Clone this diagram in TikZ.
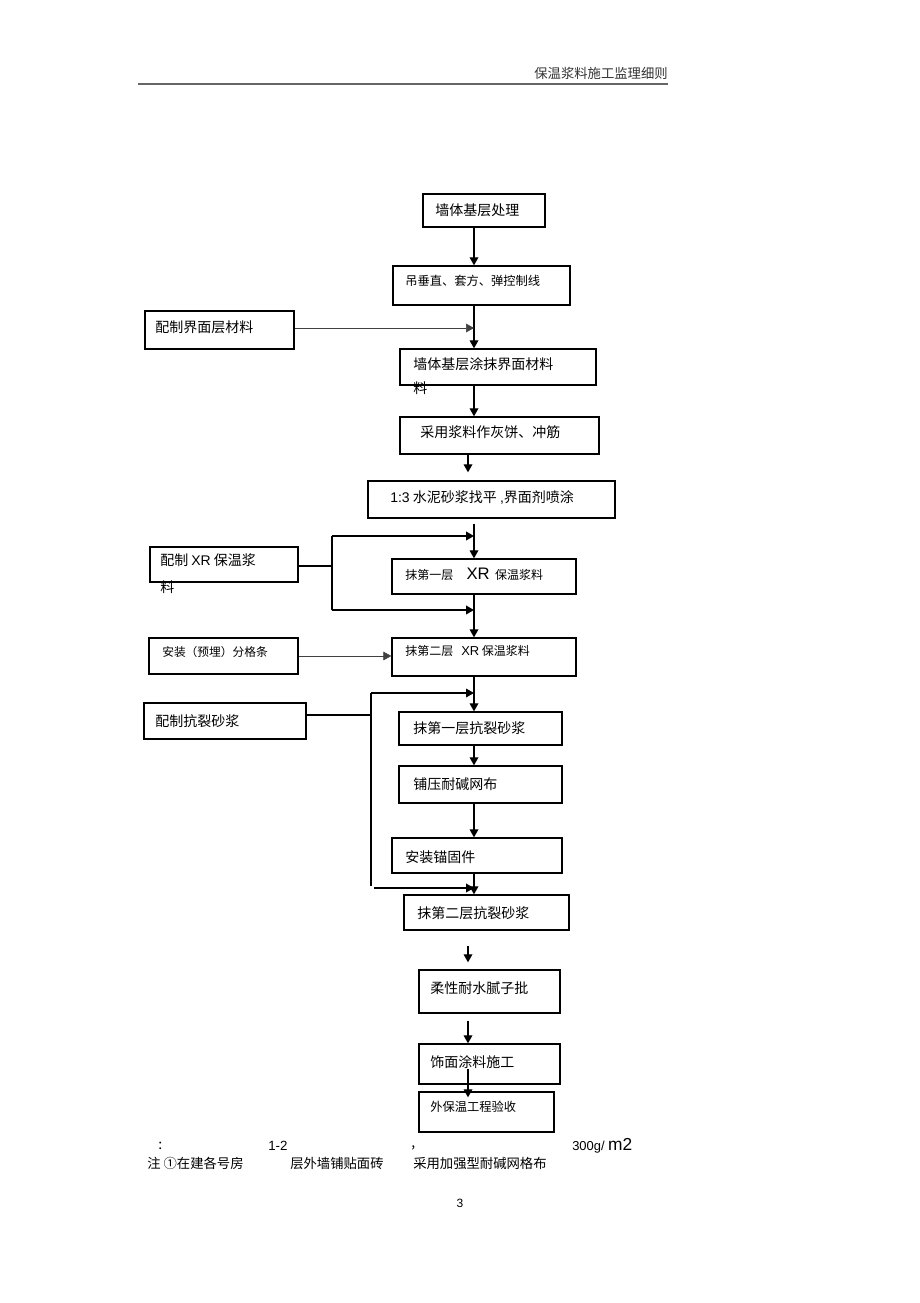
\documentclass[tikz,border=0pt]{standalone}
\usepackage{fontspec}
\setmainfont{Liberation Sans}
\newfontfamily\cjk{Noto Sans CJK SC}
\usetikzlibrary{arrows.meta,fit,calc}

\tikzset{
  box/.style={draw, line width=1pt, inner sep=0pt},
  txt/.style={anchor=west, inner sep=0pt, font=\cjk\fontsize{10.5}{12}\selectfont},
  smalltxt/.style={txt, font=\cjk\fontsize{9.2}{11}\selectfont},
  tip/.style={-{Triangle[length=6pt,width=6.5pt]}},
  arr/.style={line width=0.9pt, tip},
  feed/.style={line width=0.5pt, draw=black!75, tip},
  branch/.style={line width=1.4pt},
}

\begin{document}
\begin{tikzpicture}[x=0.75pt, y=-0.75pt]
            \useasboundingbox (0,0) rectangle (920,1303);

            % header
            \node[txt, anchor=east, font=\cjk\fontsize{10}{12}\selectfont, text=black!80] (head) at (668,73) {保温浆料施工监理细则};
            \draw[line width=1.5pt, black!60] (138,84) -- (668,84);

            % main column
            \node[box, fit={(423,194) (545,227)}] (b1) {};
            \node[box, fit={(393,266) (570,305)}] (b2) {};
            \node[box, fit={(400,349) (596,385)}] (b3) {};
            \node[box, fit={(400,417) (599,454)}] (b4) {};
            \node[box, fit={(368,481) (615,518)}] (b5) {};
            \node[box, fit={(392,559) (576,594)}] (b6) {};
            \node[box, fit={(392,638) (576,676)}] (b7) {};
            \node[box, fit={(399,712) (562,745)}] (b8) {};
            \node[box, fit={(399,766) (562,803)}] (b9) {};
            \node[box, fit={(392,838) (562,873)}] (b10) {};
            \node[box, fit={(404,895) (569,930)}] (b11) {};
            \node[box, fit={(419,970) (560,1013)}] (b12) {};
            \node[box, fit={(419,1044) (560,1084)}] (b13) {};
            \node[box, fit={(419,1092) (554,1132)}] (b14) {};

            % side boxes
            \node[box, fit={(145,311) (294,349)}] (s1) {};
            \node[box, fit={(150,547) (298,582)}] (s2) {};
            \node[box, fit={(149,638) (298,674)}] (s3) {};
            \node[box, fit={(144,703) (306,739)}] (s4) {};

            % texts
            \node[txt] (t1) at (435,210) {墙体基层处理};
            \node[smalltxt] (t2) at (405,281) {吊垂直、套方、弹控制线};
            \node[txt] (t3) at (413,364) {墙体基层涂抹界面材料};
            \node[txt] (t3b) at (413,388) {料};
            \node[txt] (t4) at (420,432) {采用浆料作灰饼、冲筋};
            \node[txt] (t5) at (390,497) {{\rmfamily 1:3} 水泥砂浆找平 {\rmfamily ,}界面剂喷涂};
            \node[smalltxt, font=\cjk\fontsize{9}{11}\selectfont] (t6) at (405,574) {抹第一层\hspace{10pt}{\rmfamily\fontsize{12.5}{14}\selectfont XR}\hspace{4pt}保温浆料};
            \node[smalltxt, font=\cjk\fontsize{9}{11}\selectfont] (t7) at (405,651) {抹第二层\hspace{6pt}{\rmfamily\fontsize{9.7}{11}\selectfont XR} 保温浆料};
            \node[txt] (t8) at (413,728) {抹第一层抗裂砂浆};
            \node[txt] (t9) at (413,784) {铺压耐碱网布};
            \node[txt] (t10) at (405,857) {安装锚固件};
            \node[txt] (t11) at (417,913) {抹第二层抗裂砂浆};
            \node[txt] (t12) at (430,988) {柔性耐水腻子批};
            \node[txt] (t13) at (430,1062) {饰面涂料施工};
            \node[smalltxt] (t14) at (430,1107) {外保温工程验收};
            \node[txt] (u1) at (155,327) {配制界面层材料};
            \node[txt] (u2) at (160,560) {配制 {\rmfamily XR} 保温浆};
            \node[txt] (u2b) at (160,587) {料};
            \node[smalltxt, font=\cjk\fontsize{8.8}{11}\selectfont] (u3) at (162,652) {安装（预埋）分格条};
            \node[txt] (u4) at (155,721) {配制抗裂砂浆};

            % spine positions
            \coordinate (m) at (474,0);
            \coordinate (n) at (468,0);

            % main arrows
            \draw[arr] (b1.south -| m) -- (b2.north -| m);
            \draw[arr] (b2.south -| m) -- (b3.north -| m);
            \draw[arr] (b3.south -| m) -- (b4.north -| m);
            \draw[arr] (b4.south -| n) -- ($(b5.north -| n)+(0,-8)$);
            \draw[arr] ($(b5.south -| m)+(0,5)$) -- (b6.north -| m);
            \draw[arr] (b6.south -| m) -- (b7.north -| m);
            \draw[arr] (b7.south -| m) -- (b8.north -| m);
            \draw[arr] (b8.south -| m) -- (b9.north -| m);
            \draw[arr] (b9.south -| m) -- (b10.north -| m);
            \draw[arr] (b10.south -| m) -- (b11.north -| m);
            \draw[arr] ($(b11.south -| n)+(0,15)$) -- ($(b12.north -| n)+(0,-7)$);
            \draw[arr] ($(b12.south -| n)+(0,7)$) -- (b13.north -| n);
            \draw[arr] ($(b13.south -| n)+(0,-16)$) -- ($(b14.north -| n)+(0,6)$);

            % side feeds
            \draw[feed] (s1.east |- 0,328) -- (m |- 0,328);
            \draw[feed] (s3.east) -- (s3.east -| b7.west);

            \coordinate (xrTop) at (332,536);
            \coordinate (xrBot) at (332,610);
            \draw[branch] (s2.east |- 0,566) -- (xrTop |- 0,566);
            \draw[branch] (xrTop) -- (xrBot);
            \draw[branch, tip] (xrTop) -- (xrTop -| m);
            \draw[branch, tip] (xrBot) -- (xrBot -| m);

            \coordinate (klTop) at (371,693);
            \coordinate (klBot) at (371,886);
            \draw[line width=1pt] (s4.east |- 0,715) -- (klTop |- 0,715);
            \draw[line width=1pt] (klTop) -- (klBot);
            \draw[arr] (klTop) -- (klTop -| m);
            \draw[arr, line width=1.2pt] (374,888) -- (m |- 0,888);

            % note
            \node[txt] (c1) at (158,1146) {:};
            \node[txt, font=\rmfamily\fontsize{10}{12}\selectfont] (c2) at (268,1146) {1-2};
            \node[txt] (c3) at (411,1148) {,};
            \node[txt, font=\rmfamily\fontsize{9.7}{12}\selectfont] (c4) at (572,1146) {300g/ {\fontsize{13}{14}\selectfont m2}};
            \node[txt, font=\cjk\fontsize{10}{12}\selectfont] (c5) at (147,1163) {注 ①在建各号房};
            \node[txt, font=\cjk\fontsize{10}{12}\selectfont] (c6) at (290,1163) {层外墙铺贴面砖};
            \node[txt, font=\cjk\fontsize{10}{12}\selectfont] (c7) at (413,1163) {采用加强型耐碱网格布};
            \node[font=\rmfamily\fontsize{9}{11}\selectfont, inner sep=0pt] (pg) at (460,1203) {3};
\end{tikzpicture}
\end{document}
